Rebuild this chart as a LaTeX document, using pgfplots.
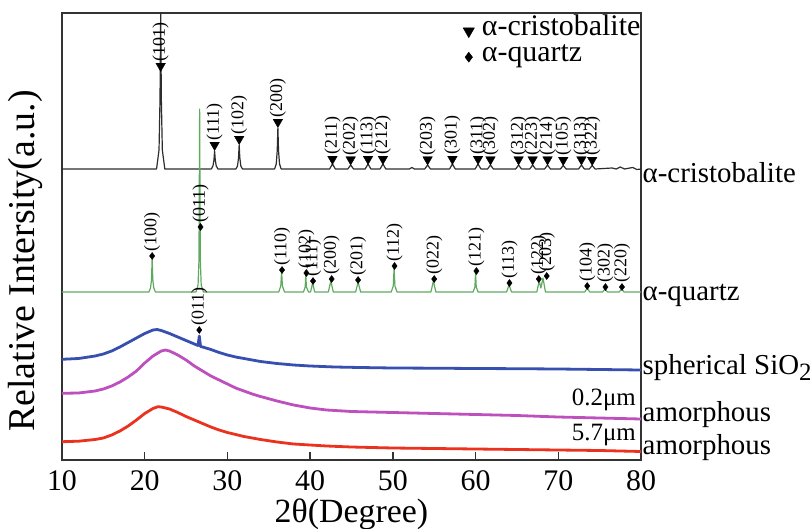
\documentclass[border=0pt]{standalone}
\usepackage{fontspec}
\setmainfont{Liberation Serif}
\usepackage{pgfplots}
\pgfplotsset{compat=1.18}
\usepackage{pgfplotstable}

\definecolor{cris}{RGB}{45,45,45}
\definecolor{qtz}{RGB}{95,170,95}
\definecolor{sph}{RGB}{55,80,175}
\definecolor{amA}{RGB}{190,80,190}
\definecolor{amB}{RGB}{235,50,30}
\newcommand{\fs}[1]{\fontsize{#1}{#1}\selectfont}

% alpha-cristobalite pattern
\pgfplotstableread{
x y
10 291
21.43 291
21.73 310
21.85 361
21.93 447
22.01 361
22.13 310
22.43 291
28.05 291
28.25 294
28.37 300
28.45 309
28.53 300
28.65 294
28.85 291
31.02 291
31.22 294
31.34 302
31.42 315
31.50 302
31.62 294
31.82 291
35.7 291
35.9 296
36.02 309
36.10 332
36.18 309
36.30 296
36.5 291
42.35 291
42.7 296
43.05 291
44.55 291
44.9 295
45.25 291
46.65 291
47.0 296
47.35 291
48.45 291
48.8 296
49.15 291
52.0 291
52.3 292.5
52.6 291
53.85 291
54.2 295
54.55 291
56.85 291
57.2 296
57.55 291
59.95 291
60.3 296
60.65 291
61.45 291
61.8 295
62.15 291
64.85 291
65.2 295
65.55 291
66.55 291
66.9 295
67.25 291
68.35 291
68.7 295
69.05 291
70.25 291
70.6 294.5
70.95 291
72.45 291
72.8 295
73.15 291
73.75 291
74.1 294.5
74.45 291
76.5 292
77.0 291
77.5 293
78.0 291
79.0 292.5
79.5 290.5
80 291
}\crisline

\pgfplotstableread{
x y lab
21.93 394 (101)
28.45 315 (111)
31.42 321 (102)
36.10 338 (200)
42.7 301 (211)
44.9 300.5 (202)
47.0 301 (113)
48.8 301 (212)
54.2 300.5 (203)
57.2 301 (301)
60.3 301 (311)
61.8 300.5 (302)
65.2 300.5 (312)
66.9 300.5 (223)
68.7 300.5 (214)
70.6 300 (105)
72.8 300.5 (313)
74.1 300 (322)
}\crismk

% alpha-quartz pattern
\pgfplotstableread{
x y
10 168
20.5 168
20.7 172
20.82 180
20.9 202
20.98 180
21.1 172
21.3 168
26.2 168
26.45 175
26.56 200
26.64 351
26.72 200
26.83 175
27.1 168
36.2 168
36.45 174
36.55 188
36.65 174
36.9 168
39.2 168
39.4 173
39.47 185
39.55 173
39.8 168
40.05 168
40.3 177
40.55 168
42.2 168
42.5 179
42.8 168
45.5 168
45.8 178
46.1 168
49.8 168
50.05 174
50.15 192
50.25 174
50.5 168
54.6 168
54.9 179
55.2 168
59.7 168
59.92 173
60.0 187
60.08 173
60.3 168
63.75 168
64.05 175
64.35 168
67.4 168
67.7 179
67.9 172
68.15 182
68.45 168
73.2 168
73.5 172
73.8 168
75.35 168
75.65 171
75.95 168
77.35 168
77.65 171
77.95 168
80 168
}\qtzline

\pgfplotstableread{
x y lab
20.9 204 (100)
26.75 233 (011)
36.6 190 (110)
39.55 187 (102)
40.35 179 (111)
42.6 181 (200)
45.8 180 (201)
50.2 194 (112)
55.0 181 (022)
60.1 189 (121)
64.1 177 (113)
67.64 181 (122)
68.6 184 (203)
73.5 174 (104)
75.7 173 (302)
77.7 173 (220)
}\qtzmk

% spherical SiO2
\pgfplotstableread{
x y
10 100.7
12 101.5
14 104
15 106
16 109
17 113
18 117.5
19 122
20 126.5
21 130
21.5 130.5
22 129.5
23 126.5
24 123
25 119.5
26 116
26.45 114.5
26.6 124
26.75 113.5
27 113
28 110.5
29 107.5
30 105
31 103
32 101.5
33 100
34 98.5
36 96.5
38 95
40 94
43 93
46 92.5
50 92
55 91.8
60 91.5
65 91.3
70 91
75 90.5
80 90
}\sphline

% amorphous 0.2 um
\pgfplotstableread{
x y
10 66.7
12 67
14 69
15 71
16 74
17 78
18 83
19 89
20 97
21 104
22 109
22.5 110
23 109
24 105
25 100
26 94
27 89
28 84
29 80
30 76
31 72
32 69
33 66
34 63.5
36 59
38 55
40 52
42 50
45 48.5
50 47.5
55 46.5
60 45.5
65 44.5
70 43
75 42
80 41
}\amAline

% amorphous 5.7 um
\pgfplotstableread{
x y
10 18.3
12 18.8
14 20.5
15 22
16 25
17 29
18 34
19 40
20 46.5
21 51.5
21.6 53.3
22 53
23 51
24 47.5
25 43.5
26 40
27 36.5
28 33
29 30
30 27.5
31 25.5
32 23.5
33 22
34 20.5
36 18
38 16
40 15
42 14
45 13
50 12
55 11.5
60 11
65 10.5
70 10
75 9.5
80 8.5
}\amBline

\pgfplotstableread{
x y lab
26.6 130 (011)
}\sphmk

\begin{document}
\begin{tikzpicture}
\begin{axis}[
  scale only axis, width=579bp, height=447bp,
  xmin=10, xmax=80, ymin=0, ymax=447,
  xtick={10,20,...,80}, ytick=\empty,
  xtick pos=bottom, tick align=inside, major tick length=8bp,
  axis line style={line width=1.3bp, black!80},
  every tick/.style={line width=1.3bp, black!80},
  /pgf/number format/assume math mode=true,
  ticklabel style={font=\fs{30}},
  xticklabel style={inner sep=0pt, anchor=north, yshift=-10bp},
  xlabel={2θ(Degree)},
  ylabel={Relative Intersity(a.u.)},
  xlabel style={font=\fs{34}, at={(axis description cs:0.5,-0.14)}, anchor=base, inner sep=0pt},
  ylabel style={font=\fs{38}, at={(axis description cs:-0.033,0.445)}, anchor=south, inner sep=0pt},
  clip=false,
  legend style={at={(1,1)}, anchor=north east, draw=none, fill=none,
    font=\fs{30}, inner sep=0pt, yshift=-5bp, column sep=7bp,
    nodes={inner sep=0.5bp, text height=17bp, text depth=8bp}},
  legend cell align=left,
]
\addlegendimage{only marks, mark=triangle*, mark size=6.5bp, mark options={rotate=180}, black}
\addlegendentry{α-cristobalite}
\addlegendimage{only marks, mark=diamond*, mark size=5bp, black}
\addlegendentry{α-quartz}

\addplot[forget plot, cris, line width=1.2bp, line join=round] table {\crisline};
\addplot[forget plot, qtz, line width=1.2bp, line join=round] table {\qtzline};
\addplot[forget plot, sph, line width=2.8bp, line join=round] table {\sphline};
\addplot[forget plot, amA, line width=2.8bp, line join=round] table {\amAline};
\addplot[forget plot, amB, line width=2.8bp, line join=round] table {\amBline};

\addplot[forget plot, only marks, mark=triangle*, mark size=5.5bp,
  mark options={rotate=180, fill=black, draw=black},
  nodes near coords, point meta=explicit symbolic,
  every node near coord/.append style={rotate=90, anchor=west, font=\fs{18},
    inner xsep=4bp, inner ysep=0pt, text=black}]
  table[meta=lab] {\crismk};
\addplot[forget plot, only marks, mark=diamond*, mark size=3.5bp,
  mark options={fill=black, draw=black},
  nodes near coords, point meta=explicit symbolic,
  every node near coord/.append style={rotate=90, anchor=west, font=\fs{18},
    inner xsep=4bp, inner ysep=0pt, text=black}]
  table[meta=lab] {\qtzmk};
\addplot[forget plot, only marks, mark=diamond*, mark size=3.5bp,
  mark options={fill=black, draw=black},
  nodes near coords, point meta=explicit symbolic,
  every node near coord/.append style={rotate=90, anchor=west, font=\fs{18},
    inner xsep=4bp, inner ysep=0pt, text=black}]
  table[meta=lab] {\sphmk};

\node[anchor=west, font=\fs{29}, inner sep=1.5bp] at (axis cs:80,287) {α-cristobalite};
\node[anchor=west, font=\fs{29}, inner sep=1.5bp] at (axis cs:80,165) {α-quartz};
\node[anchor=west, font=\fs{29}, inner sep=1.5bp] at (axis cs:80,92) {spherical SiO\raisebox{-6bp}{\fs{25}2}};
\node[anchor=west, font=\fs{29}, inner sep=1.5bp] at (axis cs:80,45) {amorphous};
\node[anchor=west, font=\fs{29}, inner sep=1.5bp] at (axis cs:80,12) {amorphous};
\node[anchor=base east, font=\fs{25}, inner sep=0pt] at (axis cs:79.4,55) {0.2μm};
\node[anchor=base east, font=\fs{25}, inner sep=0pt] at (axis cs:79.4,20) {5.7μm};

\coordinate (BL) at (rel axis cs:0,0);
\coordinate (TR) at (rel axis cs:1,1);
\end{axis}
\pgfresetboundingbox
\path[use as bounding box] ([shift={(-62bp,-68bp)}]BL) rectangle ([shift={(169bp,13bp)}]TR);
\end{tikzpicture}
\end{document}
